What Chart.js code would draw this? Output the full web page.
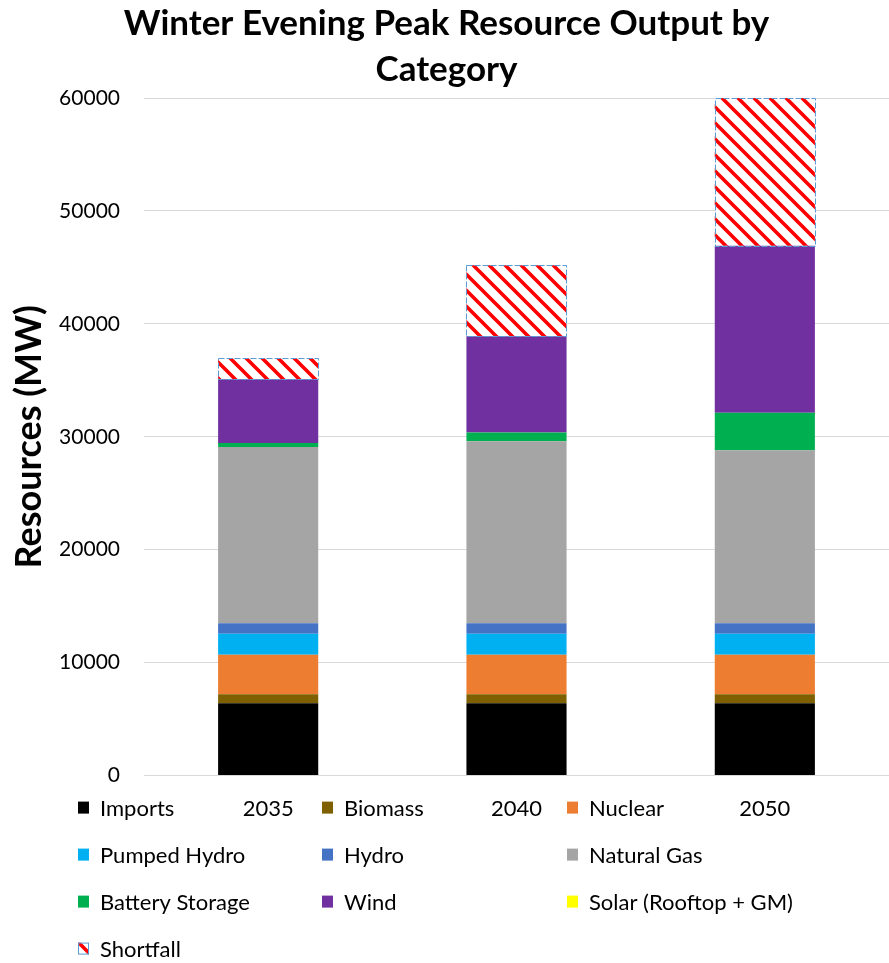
<!DOCTYPE html>
<html>
<head>
<meta charset="utf-8">
<script src="https://cdn.jsdelivr.net/npm/chart.js@4.4.1/dist/chart.umd.min.js"></script>
<style>
  html, body { margin: 0; padding: 0; background: #fff; }
  #wrap { width: 889px; height: 963px; }
</style>
</head>
<body>
<div id="wrap"><canvas id="barCanvas"></canvas></div>
<script>
// categories and values (MW)
const years = ["2035", "2040", "2050"];
const imports = [6400, 6400, 6400];
const biomass = [800, 800, 800];
const nuclear = [3500, 3500, 3500];
const pumpedHydro = [1850, 1850, 1850];
const hydro = [950, 950, 950];
const naturalGas = [15600, 16100, 15300];
const batteryStorage = [350, 770, 3340];
const wind = [5650, 8540, 14770];
const solar = [0, 0, 0];
const shortfall = [1860, 6290, 13080];
const yTicks = [0, 10000, 20000, 30000, 40000, 50000, 60000];

const FONT = "Lato, 'Open Sans', sans-serif";

// red diagonal hatch for the shortfall
function hatch() {
    const c = document.createElement("canvas");
    c.width = 16; c.height = 16;
    const g = c.getContext("2d");
    g.fillStyle = "#fff";
    g.fillRect(0, 0, 16, 16);
    g.strokeStyle = "#ff0000";
    g.lineWidth = 3.6;
    g.beginPath();
    g.moveTo(-4, -4); g.lineTo(20, 20);
    g.moveTo(-20, -4); g.lineTo(4, 20);
    g.moveTo(12, -4); g.lineTo(36, 20);
    g.stroke();
    return g.createPattern(c, "repeat");
}
const hatchFill = hatch();

function ds(label, data, color) {
    return { label: label, data: data, backgroundColor: color, borderWidth: 0,
             categoryPercentage: 0.8, barPercentage: 0.504 };
}

const datasets = [
    ds("Imports", imports, "#000000"),
    ds("Biomass", biomass, "#7f6000"),
    ds("Nuclear", nuclear, "#ed7d31"),
    ds("Pumped Hydro", pumpedHydro, "#00b0f0"),
    ds("Hydro", hydro, "#4472c4"),
    ds("Natural Gas", naturalGas, "#a5a5a5"),
    ds("Battery Storage", batteryStorage, "#00b050"),
    ds("Wind", wind, "#7030a0"),
    ds("Solar (Rooftop + GM)", solar, "#ffff00"),
    ds("Shortfall", shortfall, hatchFill)
];

// dashed blue outline round the shortfall blocks
const shortfallOutline = {
    id: "shortfallOutline",
    afterDatasetsDraw(chart) {
        const ctx = chart.ctx;
        const meta = chart.getDatasetMeta(datasets.length - 1);
        ctx.save();
        ctx.strokeStyle = "#5b9bd5";
        ctx.lineWidth = 1;
        ctx.setLineDash([6, 2]);
        meta.data.forEach(bar => {
            const p = bar.getProps(["x", "y", "base", "width"], true);
            ctx.strokeRect(Math.round(p.x - p.width / 2) + 0.5, Math.round(p.y) + 0.5,
                           Math.round(p.width), Math.round(p.base - p.y));
        });
        ctx.restore();
    }
};

// three-column legend under the plot, sharing the first row with the year labels
const gridLegend = {
    id: "gridLegend",
    afterDraw(chart) {
        const ctx = chart.ctx;
        const a = chart.chartArea;
        const cols = [78, 322, 567];
        ctx.save();
        ctx.font = "22px " + FONT;
        ctx.textBaseline = "middle";
        ctx.textAlign = "left";
        datasets.forEach((d, i) => {
            const col = i % 3, row = Math.floor(i / 3);
            const x = cols[col];
            const y = a.bottom + 32 + row * 47;
            ctx.fillStyle = d.backgroundColor;
            ctx.fillRect(x, y - 6, 11, 12);
            if (i === datasets.length - 1) {
                ctx.strokeStyle = "#5b9bd5";
                ctx.lineWidth = 1;
                ctx.strokeRect(x + 0.5, y - 5.5, 10, 11);
            }
            ctx.fillStyle = "#000";
            ctx.fillText(d.label, x + 22, y + 1);
        });
        ctx.restore();
    }
};

new Chart(document.getElementById("barCanvas"), {
    type: "bar",
    data: { labels: years, datasets: datasets },
    options: {
        responsive: true,
        maintainAspectRatio: false,
        animation: false,
        layout: { padding: { left: 4, right: 0, top: 0, bottom: 129 } },
        plugins: {
            legend: { display: false },
            tooltip: { enabled: false },
            title: {
                display: true,
                text: ["Winter Evening Peak Resource Output by", "Category"],
                color: "#000",
                font: { family: FONT, size: 35, weight: "bold", lineHeight: 1.3 },
                padding: { top: 1, bottom: 6 }
            }
        },
        scales: {
            x: {
                stacked: true,
                grid: { display: false },
                border: { display: false },
                ticks: { color: "#000", padding: 12, font: { family: FONT, size: 22 } }
            },
            y: {
                stacked: true,
                min: 0,
                max: 60000,
                afterBuildTicks(scale) { scale.ticks = yTicks.map(v => ({ value: v })); },
                afterFit(scale) { scale.width = 140; },
                grid: { color: "#d9d9d9", lineWidth: 1, drawTicks: false },
                border: { display: false },
                ticks: {
                    color: "#000", padding: 24, font: { family: FONT, size: 21 },
                    callback: v => String(v)
                },
                title: {
                    display: true,
                    text: "Resources (MW)",
                    color: "#000",
                    font: { family: FONT, size: 36, weight: "bold" },
                    padding: { top: 4, bottom: 4 }
                }
            }
        }
    },
    plugins: [shortfallOutline, gridLegend]
});
</script>
</body>
</html>
